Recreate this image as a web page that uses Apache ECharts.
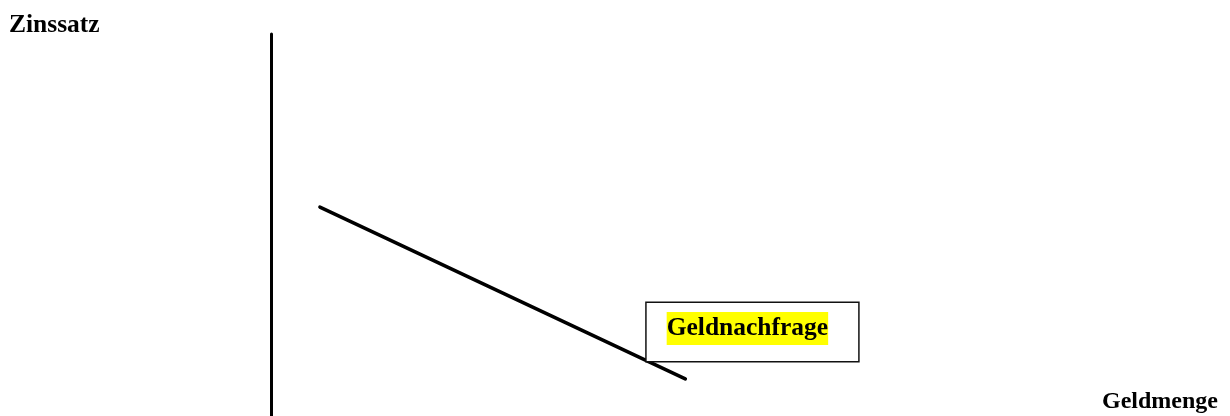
<!DOCTYPE html>
<html>
<head>
    <meta charset="utf-8">
    <title>Geldnachfrage</title>
    <script type="text/javascript" src="https://cdn.jsdelivr.net/npm/echarts@6/dist/echarts.min.js"></script>
    <style>
        html, body { margin: 0; padding: 0; background: #fff; }
    </style>
</head>

<body>
    <div id="main" style="width:1230px;height:416px;"></div>
    <script type="text/javascript">
    // data (abstract units, 0..100 on both axes)
    var yAxisName = 'Zinssatz';
    var xAxisName = 'Geldmenge';
    var demandLabel = 'Geldnachfrage';
    var demandX = [5.1, 43.2];
    var demandY = [54.7, 9.7];
    var labelPoint = [50.2, 22.0];

    var serif = "'Liberation Serif', 'Times New Roman', serif";

    var demandData = [];
    for (var i = 0; i < demandX.length; i++) {
        demandData.push([demandX[i], demandY[i]]);
    }

    var myChart = echarts.init(document.getElementById('main'));

    var option = {
        animation: false,
        backgroundColor: '#fff',
        title: [{
            text: yAxisName,
            left: 4,
            top: 7,
            textStyle: {
                fontFamily: serif,
                fontWeight: 'bold',
                fontSize: 25.5,
                color: '#000'
            }
        }, {
            text: xAxisName,
            right: 7,
            top: 385,
            textStyle: {
                fontFamily: serif,
                fontWeight: 'bold',
                fontSize: 24,
                color: '#000'
            }
        }],
        grid: {
            left: 271,
            right: 0,
            top: 34,
            bottom: 0
        },
        xAxis: {
            type: 'value',
            min: 0,
            max: 100,
            show: false
        },
        yAxis: {
            type: 'value',
            min: 0,
            max: 100,
            axisLine: {
                show: true,
                lineStyle: { color: '#000', width: 3 }
            },
            axisTick: { show: false },
            axisLabel: { show: false },
            splitLine: { show: false }
        },
        series: [{
            name: demandLabel,
            type: 'line',
            symbol: 'none',
            lineStyle: {
                color: '#000',
                width: 3.5,
                cap: 'round'
            },
            data: demandData
        }, {
            type: 'scatter',
            symbolSize: 1,
            itemStyle: { color: 'rgba(0,0,0,0)', opacity: 1 },
            z: 10,
            label: {
                show: true,
                position: 'inside',
                formatter: '{hl|' + demandLabel + '}',
                backgroundColor: '#fff',
                borderColor: '#111',
                borderWidth: 1.5,
                padding: [9, 30, 16, 20],
                rich: {
                    hl: {
                        fontFamily: serif,
                        fontWeight: 'bold',
                        fontSize: 25.5,
                        color: '#000',
                        backgroundColor: '#ffff00',
                        lineHeight: 33,
                        height: 33
                    }
                }
            },
            data: [labelPoint]
        }]
    };

    myChart.setOption(option);
    </script>
</body>
</html>
